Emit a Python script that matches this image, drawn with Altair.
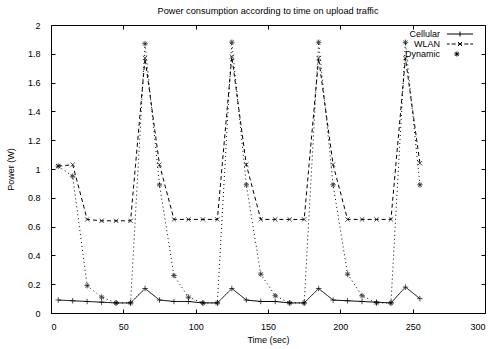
import altair as alt
import pandas as pd

time = [5, 15, 25, 35, 45, 55, 65, 75, 85, 95, 105, 115, 125, 135, 145, 155,
        165, 175, 185, 195, 205, 215, 225, 235, 245, 255]
cellular = [0.09, 0.085, 0.08, 0.075, 0.07, 0.07, 0.17, 0.09, 0.08, 0.08, 0.07, 0.07,
            0.17, 0.09, 0.08, 0.08, 0.07, 0.07, 0.17, 0.09, 0.085, 0.08, 0.075, 0.07,
            0.18, 0.10]
wlan = [1.02, 1.03, 0.65, 0.64, 0.64, 0.64, 1.77, 1.03, 0.65, 0.65, 0.65, 0.65,
        1.78, 1.03, 0.65, 0.65, 0.65, 0.65, 1.77, 1.03, 0.65, 0.65, 0.65, 0.65,
        1.77, 1.04]
dynamic = [1.02, 0.95, 0.19, 0.11, 0.07, 0.07, 1.87, 0.89, 0.26, 0.11, 0.07, 0.07,
           1.88, 0.89, 0.27, 0.12, 0.07, 0.07, 1.88, 0.89, 0.27, 0.12, 0.07, 0.07,
           1.88, 0.89]
series = ["Cellular", "WLAN", "Dynamic"]
x_ticks = [0, 50, 100, 150, 200, 250, 300]
y_ticks = [0, 0.2, 0.4, 0.6, 0.8, 1, 1.2, 1.4, 1.6, 1.8, 2]

rows = []
for name, vals in zip(series, [cellular, wlan, dynamic]):
    for t, v in zip(time, vals):
        rows.append({"Time": t, "Power": v, "Series": name})
df = pd.DataFrame(rows)

FONT = "Liberation Sans"
TS = 4

xs = alt.Scale(domain=[0, 300], nice=False, zero=False)
ys = alt.Scale(domain=[0, 2], nice=False)

x_axis = alt.Axis(orient="bottom", title="Time (sec)", values=x_ticks, format="d", offset=-TS,
                  tickSize=TS, domain=False, grid=False, labelPadding=TS + 5, titlePadding=4,
                  labelFont=FONT, titleFont=FONT, labelFontSize=9, titleFontSize=9,
                  titleFontWeight="normal", labelColor="black", titleColor="black",
                  tickColor="black")
y_axis = alt.Axis(orient="left", title="Power (W)", values=y_ticks, format=".1~f", offset=-TS,
                  tickSize=TS, domain=False, grid=False, labelPadding=TS + 7, titlePadding=12,
                  labelFont=FONT, titleFont=FONT, labelFontSize=9, titleFontSize=9,
                  titleFontWeight="normal", labelColor="black", titleColor="black",
                  tickColor="black")
x_top = alt.Axis(orient="top", values=x_ticks, offset=-TS, tickSize=TS, domain=False,
                 grid=False, labels=False, title=None, tickColor="black")
y_right = alt.Axis(orient="right", values=y_ticks, offset=-TS, tickSize=TS, domain=False,
                   grid=False, labels=False, title=None, tickColor="black")

dash_scale = alt.Scale(domain=series, range=[[1, 0], [4, 3], [1, 3]])
shape_scale = alt.Scale(domain=series, range=[
    "M-1,0L1,0M0,-1L0,1",
    "M-0.8,-0.8L0.8,0.8M-0.8,0.8L0.8,-0.8",
    "M-1,0L1,0M0,-1L0,1M-0.7,-0.7L0.7,0.7M-0.7,0.7L0.7,-0.7",
])
# legend samples: line segment with marker (gnuplot style)
legend_shape_scale = alt.Scale(domain=series, range=[
    "M-2.9,0L2.9,0M0,-0.55L0,0.55",
    "M-2.9,0L-2.3,0M-1.85,0L-0.95,0M-0.45,0L0.45,0M0.95,0L1.85,0M2.3,0L2.9,0"
    "M-0.45,-0.45L0.45,0.45M-0.45,0.45L0.45,-0.45",
    "M-1.25,0L-0.15,0M-0.7,-0.55L-0.7,0.55M-1.1,-0.4L-0.3,0.4M-1.1,0.4L-0.3,-0.4",
])

base = alt.Chart(df)
lines = base.mark_line(color="black", strokeWidth=1).encode(
    x=alt.X("Time:Q", scale=xs, axis=x_axis),
    y=alt.Y("Power:Q", scale=ys, axis=y_axis),
    strokeDash=alt.StrokeDash("Series:N", scale=dash_scale, legend=None),
)
points = base.mark_point(color="black", filled=False, strokeWidth=1, size=30).encode(
    x=alt.X("Time:Q", scale=xs, axis=None),
    y=alt.Y("Power:Q", scale=ys, axis=None),
    shape=alt.Shape("Series:N", scale=shape_scale, legend=None),
)
mirror = base.transform_calculate(Label="datum.Series").mark_point(
    opacity=0, filled=False, color="black"
).encode(
    x=alt.X("Time:Q", scale=xs, axis=x_top),
    y=alt.Y("Power:Q", scale=ys, axis=y_right),
    shape=alt.Shape("Label:N", scale=legend_shape_scale, legend=alt.Legend(
        title=None, orient="none", legendX=404, legendY=4,
        labelFont=FONT, labelFontSize=9, labelColor="black",
        labelAlign="right", labelOffset={"expr": "-25"},
        symbolStrokeColor="black", symbolFillColor="transparent",
        symbolOpacity=1, symbolSize=81, symbolStrokeWidth=1, rowPadding=0)),
)

chart = alt.layer(lines, points, mirror).resolve_axis(
    x="independent", y="independent"
).resolve_scale(shape="independent").properties(
    width=434, height=288,
    title=alt.TitleParams("Power consumption according to time on upload traffic",
                          font=FONT, fontSize=9.2, fontWeight="normal", color="black",
                          offset=5),
    padding={"left": 51, "top": 25, "right": 10, "bottom": 36},
    autosize="none",
    background="white",
).configure_view(stroke="black", strokeWidth=1)

chart.save("out.html", embed_options={"renderer": "svg", "actions": False})
